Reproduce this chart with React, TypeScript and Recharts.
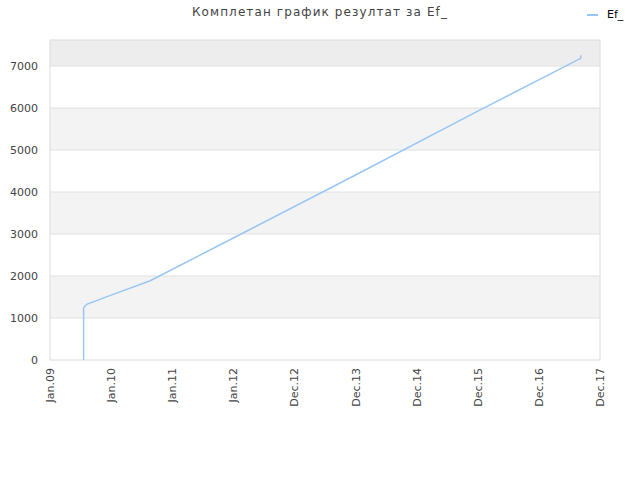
import React from "react";
import { LineChart, Line, XAxis, YAxis, ReferenceArea, ReferenceLine } from "recharts";

// x positions are in "tick index" units (0 = Jan.09 ... 9 = Dec.17)
const xLabels = ["Jan.09", "Jan.10", "Jan.11", "Jan.12", "Dec.12", "Dec.13", "Dec.14", "Dec.15", "Dec.16", "Dec.17"];
const xPos = [0.55, 0.55, 0.6, 1.0, 1.64, 3.0, 5.0, 7.0, 8.684, 8.686];
const efValues = [0, 1245, 1326, 1545, 1888, 2905, 4405, 5925, 7183, 7255];
const yTicks = [0, 1000, 2000, 3000, 4000, 5000, 6000, 7000];
const yMax = 7620;

const data = xPos.map((x, i) => ({ x, ef: efValues[i] }));

const LINE_COLOR = "#99c6f4";
const FONT = "'DejaVu Sans', sans-serif";

const XTick = (props: any) => {
  const { x, y, payload } = props;
  return (
    <g transform={`translate(${x},${y})`}>
      <text transform="rotate(-90)" x={0} y={0} dy={4} textAnchor="end" fill="#444" fontSize={11} fontFamily={FONT}>
        {xLabels[payload.value]}
      </text>
    </g>
  );
};

export default function App() {
  return (
    <div style={{ position: "absolute", left: 0, top: 0, width: 640, height: 480, background: "#fff" }}>
      <div
        style={{
          position: "absolute",
          top: 5,
          left: 0,
          width: 640,
          textAlign: "center",
          fontFamily: FONT,
          fontSize: 12,
          color: "#444",
          letterSpacing: 1.1,
        }}
      >
        Комплетан график резултат за Ef_
      </div>
      <div
        style={{
          position: "absolute",
          top: 8,
          left: 587,
          display: "flex",
          alignItems: "center",
          fontFamily: FONT,
          fontSize: 11,
          color: "#000",
        }}
      >
        <div style={{ width: 11, height: 2, background: LINE_COLOR, marginRight: 9 }} />
        <span>Ef_</span>
      </div>
      <LineChart width={640} height={480} data={data} margin={{ top: 40, right: 40, bottom: 0, left: 0 }}>
        {yTicks.map((t, i) => (
          <ReferenceArea
            key={t}
            x1={0}
            x2={9}
            y1={t}
            y2={i === yTicks.length - 1 ? yMax : t + 1000}
            fill={i === yTicks.length - 1 ? "#ededed" : i % 2 === 1 ? "#f3f3f3" : "#ffffff"}
            fillOpacity={1}
            stroke="none"
            ifOverflow="hidden"
          />
        ))}
        {yTicks.slice(1).map((t) => (
          <ReferenceLine key={t} y={t} stroke="#e0e0e0" strokeWidth={1} />
        ))}
        <ReferenceArea x1={0} x2={9} y1={0} y2={yMax} fill="none" stroke="#dcdcdc" strokeWidth={1} />
        <XAxis
          dataKey="x"
          type="number"
          domain={[0, 9]}
          ticks={[0, 1, 2, 3, 4, 5, 6, 7, 8, 9]}
          interval={0}
          height={120}
          axisLine={false}
          tickLine={false}
          tick={<XTick />}
        />
        <YAxis
          type="number"
          domain={[0, yMax]}
          ticks={yTicks}
          width={50}
          axisLine={false}
          tickLine={false}
          tick={{ fill: "#444", fontSize: 11, fontFamily: FONT }}
          tickMargin={6}
        />
        <Line
          type="linear"
          dataKey="ef"
          stroke={LINE_COLOR}
          strokeWidth={1.5}
          dot={false}
          isAnimationActive={false}
        />
      </LineChart>
    </div>
  );
}
